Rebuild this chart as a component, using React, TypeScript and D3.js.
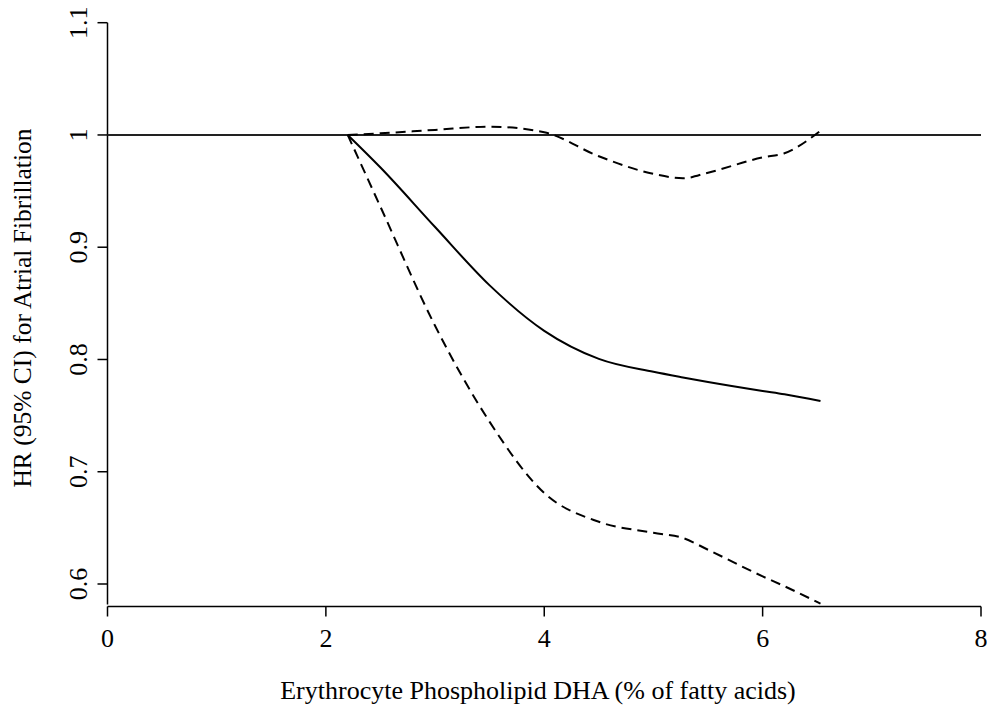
import React from "react";
import * as d3 from "d3";

const xTicks = [0, 2, 4, 6, 8];
const yTicks = [0.6, 0.7, 0.8, 0.9, 1.0, 1.1];
const yTickLabels = ["0.6", "0.7", "0.8", "0.9", "1", "1.1"];

const dha = [2.2, 2.5, 3.0, 3.5, 4.0, 4.5, 5.0, 5.27, 5.5, 6.0, 6.2, 6.53];
const hr = [1.0, 0.971, 0.918, 0.866, 0.8255, 0.8005, 0.789, 0.784, 0.78, 0.772, 0.769, 0.763];
const upper = [1.0, 1.0015, 1.0045, 1.0074, 1.0024, 0.981, 0.9653, 0.9614, 0.9664, 0.98, 0.9837, 1.0038];
const lower = [1.0, 0.936, 0.83, 0.7444, 0.681, 0.6554, 0.6456, 0.641, 0.6305, 0.6068, 0.598, 0.5825];

const referenceHR = 1.0;

const xTitle = "Erythrocyte Phospholipid DHA (% of fatty acids)";
const yTitle = "HR (95% CI) for Atrial Fibrillation";

export default function App() {
  const W = 987, H = 711;
  const x = d3.scaleLinear().domain([0, 8]).range([107.5, 981]);
  const y = d3.scaleLinear().domain([0.6, 1.1]).range([584, 22.7]);
  const yBottom = 606.5;
  const font = "'Liberation Serif', 'Times New Roman', serif";
  const fs = 26;

  const line = d3
    .line<number>()
    .x((_, i) => x(dha[i]))
    .curve(d3.curveMonotoneX);

  const path = (vals: number[]) => line.y((v) => y(v))(vals) || "";

  return (
    <svg width={W} height={H} style={{ position: "absolute", left: 0, top: 0, background: "#fff" }}>
      {/* axes */}
      <line x1={x(0)} x2={x(0)} y1={y(1.1)} y2={yBottom - 2} stroke="#000" strokeWidth={1.5} />
      <line x1={x(0)} x2={x(8)} y1={yBottom} y2={yBottom} stroke="#000" strokeWidth={1.5} />
      {yTicks.map((t, i) => (
        <g key={"y" + t}>
          <line x1={x(0) - 10} x2={x(0)} y1={y(t)} y2={y(t)} stroke="#000" strokeWidth={1.5} />
          <text
            transform={`translate(87,${y(t)}) rotate(-90)`}
            textAnchor="middle"
            fontFamily={font}
            fontSize={fs}
            fill="#000"
          >
            {yTickLabels[i]}
          </text>
        </g>
      ))}
      {xTicks.map((t) => (
        <g key={"x" + t}>
          <line x1={x(t)} x2={x(t)} y1={yBottom} y2={yBottom + 10} stroke="#000" strokeWidth={1.5} />
          <text x={x(t)} y={647} textAnchor="middle" fontFamily={font} fontSize={fs} fill="#000">
            {t}
          </text>
        </g>
      ))}
      <text x={538} y={699} textAnchor="middle" fontFamily={font} fontSize={fs} fill="#000">
        {xTitle}
      </text>
      <text
        transform={`translate(31,${308}) rotate(-90)`}
        textAnchor="middle"
        fontFamily={font}
        fontSize={25.5}
        fill="#000"
      >
        {yTitle}
      </text>

      {/* reference line */}
      <line x1={x(0)} x2={x(8)} y1={y(referenceHR)} y2={y(referenceHR)} stroke="#222" strokeWidth={2} />

      {/* curves */}
      <path d={path(upper)} fill="none" stroke="#000" strokeWidth={2} strokeDasharray="10,6" />
      <path d={path(lower)} fill="none" stroke="#000" strokeWidth={2} strokeDasharray="10,6" />
      <path d={path(hr)} fill="none" stroke="#000" strokeWidth={2} />
    </svg>
  );
}
